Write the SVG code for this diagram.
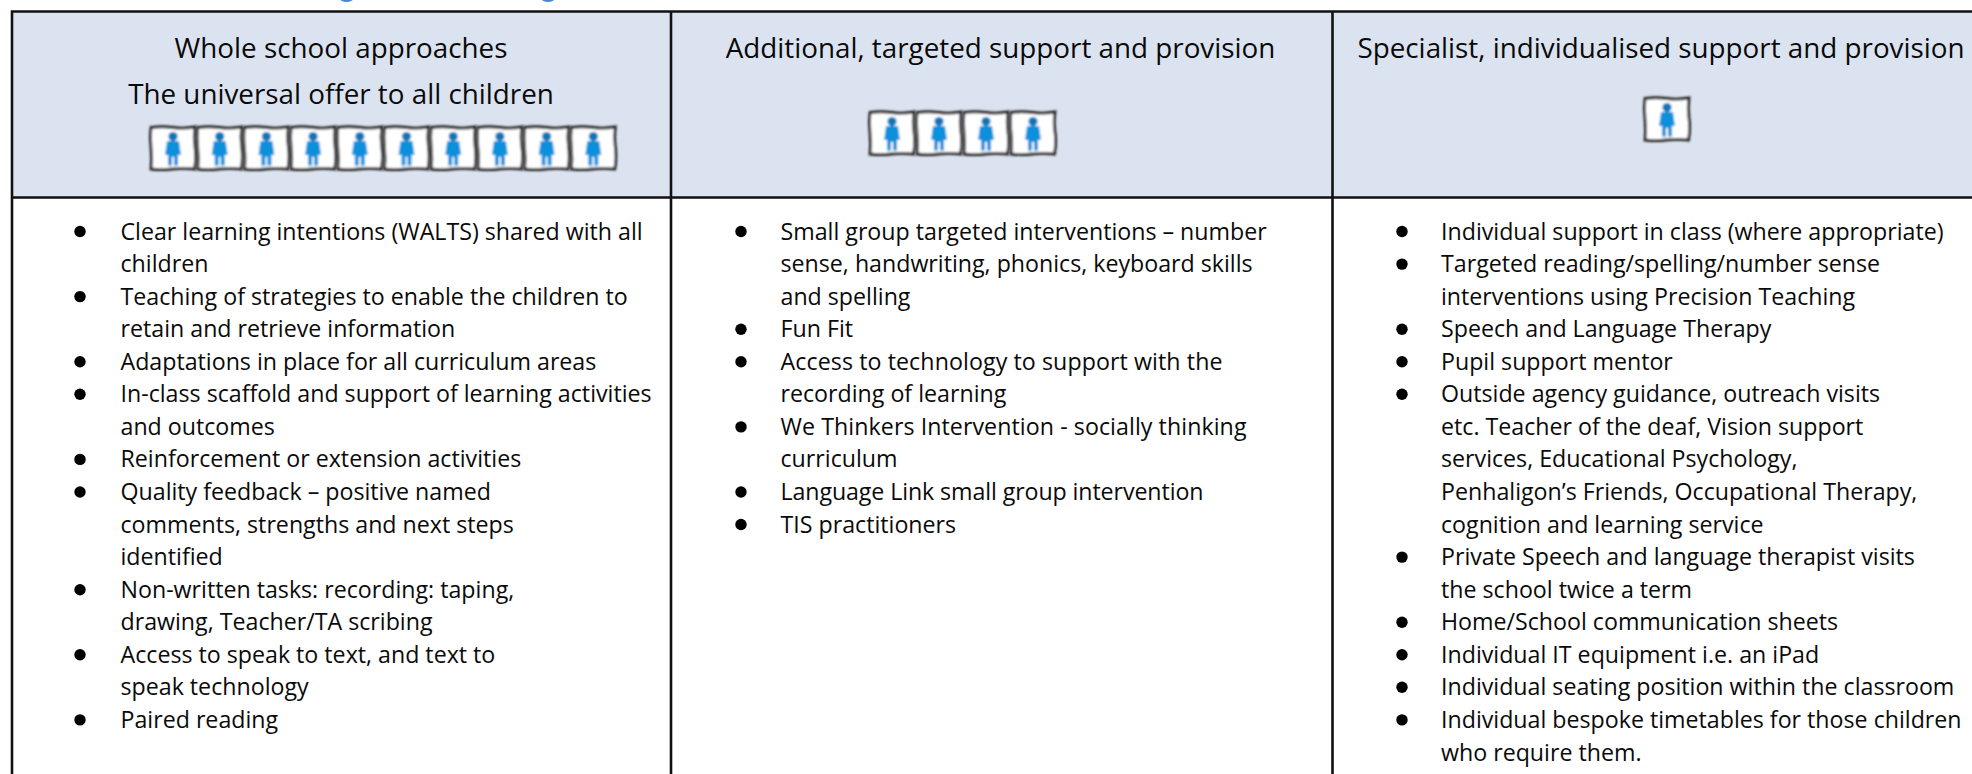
<svg xmlns="http://www.w3.org/2000/svg" width="1972" height="774" viewBox="0 0 1972 774">
<style>
text{font-family:"Open Sans","Liberation Sans",sans-serif;fill:#0a0a0a}
.h{font-size:27.8px;text-anchor:middle}
.b{font-size:23.2px}
.grid{stroke:#111;stroke-width:2.6;fill:none}
.dot{fill:#000}
</style>
<defs>
<filter id="soft" x="-10%" y="-10%" width="120%" height="120%"><feGaussianBlur stdDeviation="0.8"/></filter>
<g id="tile" filter="url(#soft)">
<path d="M1 1.5Q12 0 23 1.5T45 1Q43.5 11 45 21T44.5 43Q33 41.8 22 43T1 43Q2.2 33 1 22T1 1.5Z" fill="#fff" stroke="#222" stroke-width="2.8"/>
<circle cx="23" cy="10.5" r="4.6" fill="#0a76b8"/>
<path d="M17 15H29L31 29H28V39.5H24V31H22V39.5H18V29H15Z" fill="#0a90dc"/>
</g>
</defs>
<rect width="1972" height="774" fill="#fff"/>
<ellipse cx="346.5" cy="-2" rx="7" ry="4" fill="#4a86d8"/>
<ellipse cx="548" cy="-2" rx="7" ry="4" fill="#4a86d8"/>
<rect x="12" y="11.5" width="1960" height="186" fill="#dbe3f0"/>
<g id="connectors" class="grid">
<path d="M10.7 11.5H1972M10.7 197.5H1972M12 11.5V774M671 11.5V774M1332.5 11.5V774"/>
</g>
<g id="col1-header">
<text class="h" x="341" y="58">Whole school approaches</text>
<text class="h" x="341" y="104">The universal offer to all children</text>
<use href="#tile" x="150" y="126"/><use href="#tile" x="196.7" y="126"/><use href="#tile" x="243.4" y="126"/><use href="#tile" x="290.1" y="126"/><use href="#tile" x="336.8" y="126"/><use href="#tile" x="383.5" y="126"/><use href="#tile" x="430.2" y="126"/><use href="#tile" x="476.9" y="126"/><use href="#tile" x="523.6" y="126"/><use href="#tile" x="570.3" y="126"/>
</g>
<g id="col2-header">
<text class="h" x="1000.5" y="58">Additional, targeted support and provision</text>
<use href="#tile" x="869" y="111"/><use href="#tile" x="916" y="111"/><use href="#tile" x="963" y="111"/><use href="#tile" x="1010" y="111"/>
</g>
<g id="col3-header">
<text class="h" x="1661" y="58">Specialist, individualised support and provision</text>
<use href="#tile" x="1644" y="97"/>
</g>
<g id="col1-list">
<circle class="dot" cx="80" cy="231.5" r="5.7"/><circle class="dot" cx="80" cy="296.6" r="5.7"/><circle class="dot" cx="80" cy="361.7" r="5.7"/><circle class="dot" cx="80" cy="394.3" r="5.7"/><circle class="dot" cx="80" cy="459.4" r="5.7"/><circle class="dot" cx="80" cy="492" r="5.7"/><circle class="dot" cx="80" cy="589.7" r="5.7"/><circle class="dot" cx="80" cy="654.8" r="5.7"/><circle class="dot" cx="80" cy="719.9" r="5.7"/>
<text class="b" x="120.5" y="239.5">Clear learning intentions (WALTS) shared with all</text>
<text class="b" x="120.5" y="272">children</text>
<text class="b" x="120.5" y="304.6">Teaching of strategies to enable the children to</text>
<text class="b" x="120.5" y="337.2">retain and retrieve information</text>
<text class="b" x="120.5" y="369.7">Adaptations in place for all curriculum areas</text>
<text class="b" x="120.5" y="402.3">In-class scaffold and support of learning activities</text>
<text class="b" x="120.5" y="434.9">and outcomes</text>
<text class="b" x="120.5" y="467.4">Reinforcement or extension activities</text>
<text class="b" x="120.5" y="500">Quality feedback – positive named</text>
<text class="b" x="120.5" y="532.5">comments, strengths and next steps</text>
<text class="b" x="120.5" y="565.1">identified</text>
<text class="b" x="120.5" y="597.7">Non-written tasks: recording: taping,</text>
<text class="b" x="120.5" y="630.2">drawing, Teacher/TA scribing</text>
<text class="b" x="120.5" y="662.8">Access to speak to text, and text to</text>
<text class="b" x="120.5" y="695.3">speak technology</text>
<text class="b" x="120.5" y="727.9">Paired reading</text>
</g>
<g id="col2-list">
<circle class="dot" cx="741" cy="231.5" r="5.7"/><circle class="dot" cx="741" cy="329.2" r="5.7"/><circle class="dot" cx="741" cy="361.7" r="5.7"/><circle class="dot" cx="741" cy="426.9" r="5.7"/><circle class="dot" cx="741" cy="492" r="5.7"/><circle class="dot" cx="741" cy="524.5" r="5.7"/>
<text class="b" x="780.5" y="239.5">Small group targeted interventions – number</text>
<text class="b" x="780.5" y="272">sense, handwriting, phonics, keyboard skills</text>
<text class="b" x="780.5" y="304.6">and spelling</text>
<text class="b" x="780.5" y="337.2">Fun Fit</text>
<text class="b" x="780.5" y="369.7" textLength="442">Access to technology to support with the</text>
<text class="b" x="780.5" y="402.3">recording of learning</text>
<text class="b" x="780.5" y="434.9" textLength="466">We Thinkers Intervention - socially thinking</text>
<text class="b" x="780.5" y="467.4">curriculum</text>
<text class="b" x="780.5" y="500" textLength="423">Language Link small group intervention</text>
<text class="b" x="780.5" y="532.5">TIS practitioners</text>
</g>
<g id="col3-list">
<circle class="dot" cx="1402" cy="231.5" r="5.7"/><circle class="dot" cx="1402" cy="264.1" r="5.7"/><circle class="dot" cx="1402" cy="329.2" r="5.7"/><circle class="dot" cx="1402" cy="361.7" r="5.7"/><circle class="dot" cx="1402" cy="394.3" r="5.7"/><circle class="dot" cx="1402" cy="557.1" r="5.7"/><circle class="dot" cx="1402" cy="622.2" r="5.7"/><circle class="dot" cx="1402" cy="654.8" r="5.7"/><circle class="dot" cx="1402" cy="687.3" r="5.7"/><circle class="dot" cx="1402" cy="719.9" r="5.7"/>
<text class="b" x="1441" y="239.5">Individual support in class (where appropriate)</text>
<text class="b" x="1441" y="272">Targeted reading/spelling/number sense</text>
<text class="b" x="1441" y="304.6">interventions using Precision Teaching</text>
<text class="b" x="1441" y="337.2">Speech and Language Therapy</text>
<text class="b" x="1441" y="369.7">Pupil support mentor</text>
<text class="b" x="1441" y="402.3">Outside agency guidance, outreach visits</text>
<text class="b" x="1441" y="434.9">etc. Teacher of the deaf, Vision support</text>
<text class="b" x="1441" y="467.4">services, Educational Psychology,</text>
<text class="b" x="1441" y="500">Penhaligon’s Friends, Occupational Therapy,</text>
<text class="b" x="1441" y="532.5">cognition and learning service</text>
<text class="b" x="1441" y="565.1">Private Speech and language therapist visits</text>
<text class="b" x="1441" y="597.7">the school twice a term</text>
<text class="b" x="1441" y="630.2">Home/School communication sheets</text>
<text class="b" x="1441" y="662.8">Individual IT equipment i.e. an iPad</text>
<text class="b" x="1441" y="695.3">Individual seating position within the classroom</text>
<text class="b" x="1441" y="727.9">Individual bespoke timetables for those children</text>
<text class="b" x="1441" y="760.5">who require them.</text>
</g>
</svg>
